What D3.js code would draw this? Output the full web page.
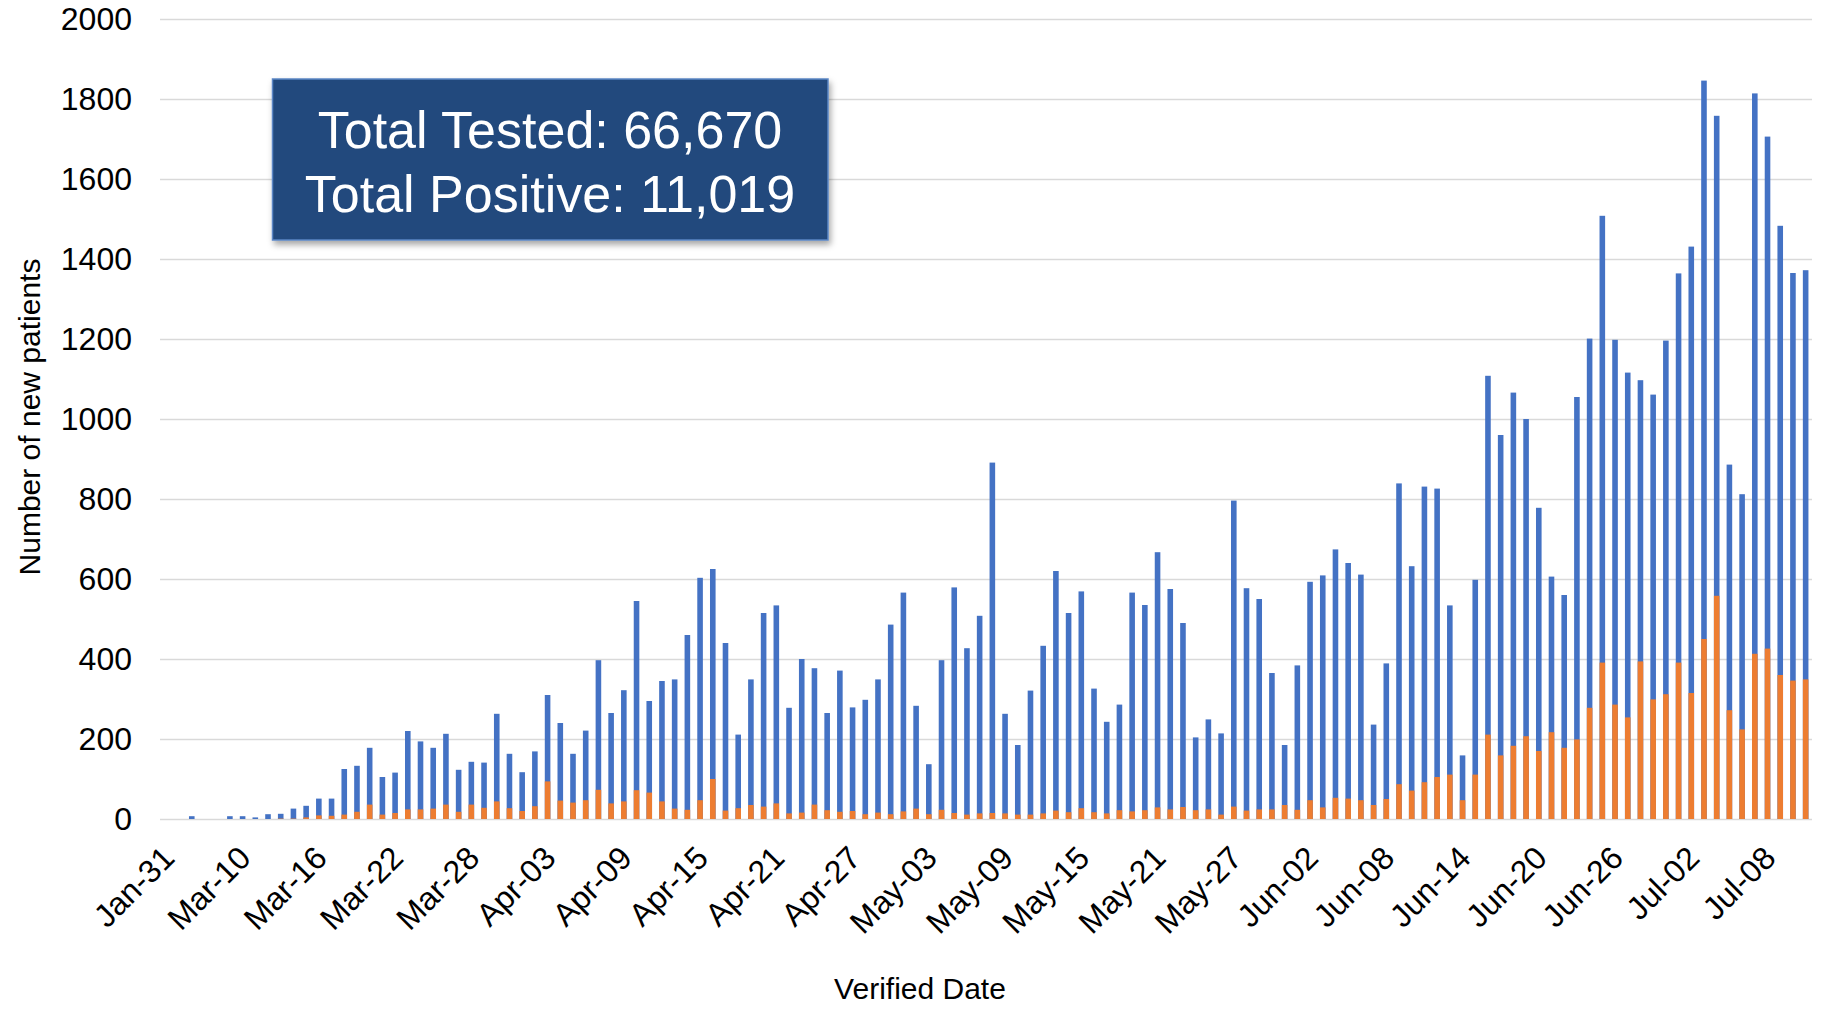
<!DOCTYPE html>
<html>
<head>
<meta charset="utf-8">
<script src="https://cdn.jsdelivr.net/npm/d3@7"></script>
<style>
body { margin: 0; background: #fff; }
text { font-family: "Liberation Sans", Arial, sans-serif; fill: #000; }
</style>
</head>
<body>
<div id="chart"></div>
<script>
// Daily new patients, tested vs positive

// Categories (verified dates)
const categories = [
    "Jan-31", "Mar-05", "Mar-06", "Mar-07", "Mar-08", "Mar-09",
    "Mar-10", "Mar-11", "Mar-12", "Mar-13", "Mar-14", "Mar-15", "Mar-16", "Mar-17", "Mar-18", "Mar-19",
    "Mar-20", "Mar-21", "Mar-22", "Mar-23", "Mar-24", "Mar-25", "Mar-26", "Mar-27", "Mar-28", "Mar-29",
    "Mar-30", "Mar-31",
    "Apr-01", "Apr-02", "Apr-03", "Apr-04", "Apr-05", "Apr-06", "Apr-07", "Apr-08", "Apr-09", "Apr-10",
    "Apr-11", "Apr-12", "Apr-13", "Apr-14", "Apr-15", "Apr-16", "Apr-17", "Apr-18", "Apr-19", "Apr-20",
    "Apr-21", "Apr-22", "Apr-23", "Apr-24", "Apr-25", "Apr-26", "Apr-27", "Apr-28", "Apr-29", "Apr-30",
    "May-01", "May-02", "May-03", "May-04", "May-05", "May-06", "May-07", "May-08", "May-09", "May-10",
    "May-11", "May-12", "May-13", "May-14", "May-15", "May-16", "May-17", "May-18", "May-19", "May-20",
    "May-21", "May-22", "May-23", "May-24", "May-25", "May-26", "May-27", "May-28", "May-29", "May-30",
    "May-31",
    "Jun-01", "Jun-02", "Jun-03", "Jun-04", "Jun-05", "Jun-06", "Jun-07", "Jun-08", "Jun-09", "Jun-10",
    "Jun-11", "Jun-12", "Jun-13", "Jun-14", "Jun-15", "Jun-16", "Jun-17", "Jun-18", "Jun-19", "Jun-20",
    "Jun-21", "Jun-22", "Jun-23", "Jun-24", "Jun-25", "Jun-26", "Jun-27", "Jun-28", "Jun-29", "Jun-30",
    "Jul-01", "Jul-02", "Jul-03", "Jul-04", "Jul-05", "Jul-06", "Jul-07", "Jul-08", "Jul-09", "Jul-10",
    "Jul-11"
];

// Total tested per day
const tested = [
    0, 0, 7, 0, 0, 7, 7, 4, 12, 13,
    26, 33, 51, 51, 125, 133, 178, 105, 116, 220,
    194, 178, 213, 123, 143, 141, 263, 163, 117, 169,
    310, 240, 163, 221, 397, 265, 322, 545, 295, 345,
    349, 460, 603, 625, 440, 211, 349, 515, 534, 278,
    400, 377, 265, 371, 279, 298, 349, 486, 566, 283,
    137, 397, 579, 427, 508, 891, 263, 185, 321, 433,
    620, 515, 569, 326, 243, 286, 566, 535, 667, 575,
    490, 204, 249, 214, 796, 577, 550, 365, 185, 384,
    593, 609, 674, 640, 611, 236, 389, 839, 632, 831,
    826, 534, 159, 598, 1108, 960, 1066, 1000, 778, 606,
    560, 1055, 1201, 1508, 1198, 1116, 1097, 1061, 1196, 1364,
    1431, 1846, 1758, 886, 812, 1814, 1706, 1483, 1365, 1372
];

// Positive per day
const positive = [
    0, 0, 0, 0, 0, 0, 0, 0, 0, 1,
    1, 4, 9, 8, 11, 18, 36, 11, 15, 24,
    24, 26, 36, 18, 36, 28, 44, 27, 20, 32,
    94, 46, 41, 47, 73, 39, 44, 72, 66, 44,
    26, 23, 47, 100, 21, 27, 35, 31, 39, 14,
    16, 36, 22, 18, 20, 12, 16, 12, 19, 26,
    12, 23, 15, 11, 14, 15, 14, 11, 11, 14,
    21, 17, 27, 17, 14, 22, 19, 22, 29, 24,
    30, 22, 24, 11, 31, 21, 24, 24, 35, 23,
    47, 29, 53, 51, 47, 35, 50, 87, 71, 92,
    105, 111, 47, 111, 211, 159, 183, 207, 170, 217,
    178, 199, 278, 391, 286, 254, 394, 299, 312, 391,
    315, 450, 558, 272, 224, 413, 426, 360, 346, 349
];

// Labels shown on the x axis
const tickLabels = [
    "Jan-31", "Mar-10", "Mar-16", "Mar-22", "Mar-28", "Apr-03", "Apr-09", "Apr-15",
    "Apr-21", "Apr-27", "May-03", "May-09", "May-15", "May-21", "May-27", "Jun-02",
    "Jun-08", "Jun-14", "Jun-20", "Jun-26", "Jul-02", "Jul-08"
];

const yTicks = [0, 200, 400, 600, 800, 1000, 1200, 1400, 1600, 1800, 2000];

const totalLines = ["Total Tested: 66,670", "Total Positive: 11,019"];

// The svg
const width = 1826;
const height = 1009;
const plotLeft = 160;
const plotRight = 1812;
const plotTop = 19;
const plotBottom = 819;

const svg = d3.select("#chart")
    .append("svg")
    .attr("width", width)
    .attr("height", height);

// Scales
const x = d3.scaleBand()
    .domain(categories)
    .range([plotLeft, plotRight])
    .paddingInner(0.56)
    .paddingOuter(0.28);

const y = d3.scaleLinear()
    .domain([0, 2000])
    .range([plotBottom, plotTop]);

// Gridlines
const grid = svg.append("g")
    .attr("transform", "translate(" + plotLeft + ",0)")
    .call(d3.axisLeft(y).tickValues(yTicks).tickSize(-(plotRight - plotLeft)).tickFormat(""));
grid.select(".domain").remove();
grid.selectAll("line")
    .attr("stroke", "#d9d9d9")
    .attr("stroke-width", 1.5);

// Y axis labels
const yAxis = svg.append("g")
    .attr("transform", "translate(" + plotLeft + ",0)")
    .call(d3.axisLeft(y).tickValues(yTicks).tickSize(0).tickPadding(28).tickFormat(d3.format("d")));
yAxis.select(".domain").remove();
yAxis.selectAll("text")
    .style("font-size", "32px")
    .style("font-family", "'Liberation Sans', Arial, sans-serif")
    .attr("fill", "#000");

// Bars: tested in blue, positive overlaid in orange
svg.append("g")
    .selectAll("rect")
    .data(categories)
    .join("rect")
    .attr("x", d => x(d))
    .attr("y", (d, i) => y(tested[i]))
    .attr("width", x.bandwidth())
    .attr("height", (d, i) => y(0) - y(tested[i]))
    .attr("fill", "#4472c4");

svg.append("g")
    .selectAll("rect")
    .data(categories)
    .join("rect")
    .attr("x", d => x(d))
    .attr("y", (d, i) => y(positive[i]))
    .attr("width", x.bandwidth())
    .attr("height", (d, i) => y(0) - y(positive[i]))
    .attr("fill", "#ed7d31");

// X axis labels, rotated
const xAxis = svg.append("g")
    .attr("transform", "translate(0," + plotBottom + ")")
    .call(d3.axisBottom(x).tickValues(tickLabels).tickSize(0));
xAxis.select(".domain").remove();
xAxis.selectAll("text")
    .attr("x", 0)
    .attr("y", 0)
    .attr("dy", 0)
    .attr("text-anchor", "end")
    .attr("transform", "translate(10,41) rotate(-45)")
    .style("font-size", "32px")
    .style("font-family", "'Liberation Sans', Arial, sans-serif")
    .attr("fill", "#000");

// Axis titles
svg.append("text")
    .attr("x", 920)
    .attr("y", 999)
    .attr("text-anchor", "middle")
    .style("font-size", "30px")
    .text("Verified Date");

svg.append("text")
    .attr("transform", "translate(40,417) rotate(-90)")
    .attr("text-anchor", "middle")
    .style("font-size", "30px")
    .text("Number of new patients");

// Totals box
const defs = svg.append("defs");
defs.append("filter")
    .attr("id", "shadow")
    .attr("x", "-10%")
    .attr("y", "-10%")
    .attr("width", "130%")
    .attr("height", "140%")
    .append("feDropShadow")
    .attr("dx", 2)
    .attr("dy", 4)
    .attr("stdDeviation", 3)
    .attr("flood-color", "#000")
    .attr("flood-opacity", 0.35);

const box = svg.append("g");
box.append("rect")
    .attr("x", 272.5)
    .attr("y", 79)
    .attr("width", 555.5)
    .attr("height", 161)
    .attr("fill", "#21497d")
    .attr("stroke", "#5b86c5")
    .attr("stroke-width", 1.5)
    .attr("filter", "url(#shadow)");

box.selectAll("text.total")
    .data(totalLines)
    .join("text")
    .attr("class", "total")
    .attr("x", 550)
    .attr("y", (d, i) => 148 + i * 63.5)
    .attr("text-anchor", "middle")
    .style("font-size", "52px")
    .style("fill", "#fff")
    .text(d => d);
</script>
</body>
</html>
